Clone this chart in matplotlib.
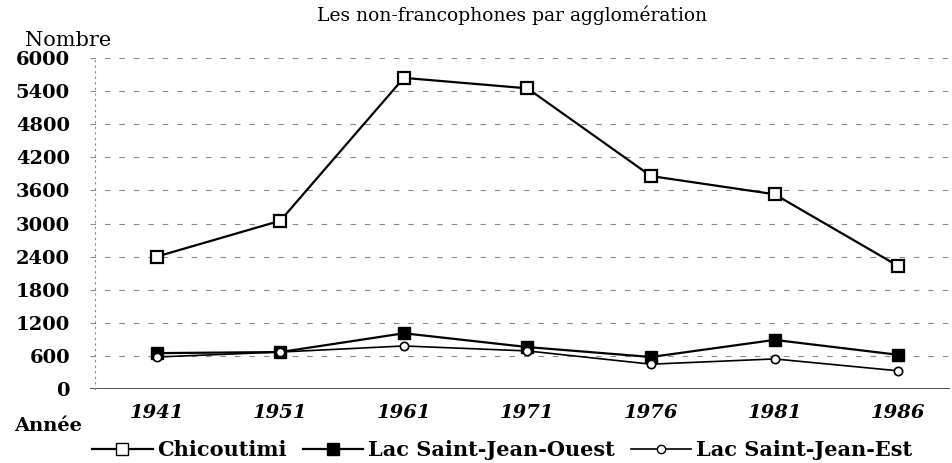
import matplotlib
matplotlib.use("Agg")
import matplotlib.pyplot as plt
from matplotlib.lines import Line2D

# data
years = ["1941", "1951", "1961", "1971", "1976", "1981", "1986"]
chicoutimi = [2400, 3050, 5640, 5450, 3860, 3530, 2230]
lac_ouest = [650, 670, 1010, 760, 580, 890, 620]
lac_est = [580, 670, 780, 690, 450, 545, 330]
yticks = [0, 600, 1200, 1800, 2400, 3000, 3600, 4200, 4800, 5400, 6000]

plt.rcParams['font.family'] = ['DejaVu Serif']

fig = plt.figure(figsize=(9.53, 4.63), dpi=100)
ax = fig.add_axes([90/953, 74/463, 860/953, 331/463])

# spines first: moving a spine resets the ticks
for s in ['top', 'right', 'bottom']:
    ax.spines[s].set_visible(False)
ax.spines['left'].set_position(('data', -0.5))
ax.spines['left'].set_linestyle((0, (1, 4)))
ax.spines['left'].set_color('#888888')
ax.spines['left'].set_linewidth(0.8)

x = list(range(len(years)))
ax.plot(x, chicoutimi, color='black', lw=1.6, marker='s', ms=9,
        mfc='white', mec='black', mew=1.6, label='Chicoutimi', zorder=4)
ax.plot(x, lac_ouest, color='black', lw=1.6, marker='s', ms=9,
        mfc='black', mec='black', label='Lac Saint-Jean-Ouest', zorder=3)
ax.plot(x, lac_est, color='black', lw=1.2, marker='o', ms=6,
        mfc='white', mec='black', mew=1.2, label='Lac Saint-Jean-Est', zorder=3)

ax.set_xlim(-0.54, 6.42)
ax.set_ylim(0, 6000)
ax.set_yticks(yticks)
ax.set_yticklabels([str(v) for v in yticks], fontsize=14, fontweight='bold')
ax.set_xticks(x)
ax.set_xticklabels(years, fontsize=14, fontweight='bold', style='italic')
ax.tick_params(axis='both', length=0)
ax.tick_params(axis='y', pad=18)
ax.tick_params(axis='x', pad=11)

for v in yticks[1:]:
    ax.axhline(v, color='#8a8a8a', lw=0.8, ls=(0, (5, 8)), zorder=1)
ax.axhline(0, color='#222222', lw=1.1, zorder=2)

fig.text(512/953, 1 - 15/463, "Les non-francophones par agglomération",
         ha='center', va='center', fontsize=13.5)
fig.text(25/953, 1 - 40/463, "Nombre", ha='left', va='center', fontsize=15)
fig.text(14/953, 1 - 426/463, "Année", ha='left', va='center',
         fontsize=14, fontweight='bold')

handles = [
    Line2D([], [], color='black', lw=1.6, marker='s', ms=9, mfc='white', mec='black'),
    Line2D([], [], color='black', lw=1.6, marker='s', ms=9, mfc='black', mec='black'),
    Line2D([], [], color='black', lw=1.2, marker='o', ms=6, mfc='white', mec='black'),
]
fig.legend(handles, ['Chicoutimi', 'Lac Saint-Jean-Ouest', 'Lac Saint-Jean-Est'],
           loc='center', bbox_to_anchor=(502/953, 1 - 450/463), ncol=3,
           frameon=False, prop={'size': 15, 'weight': 'bold'},
           handlelength=2.9, handletextpad=0.2, columnspacing=0.8)

fig.savefig("out.png", dpi=100)
